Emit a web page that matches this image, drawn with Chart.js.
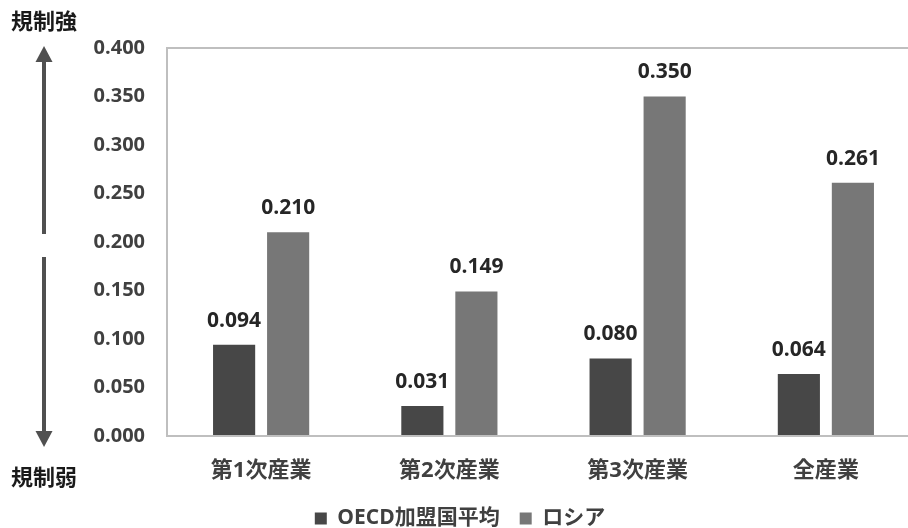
<!DOCTYPE html>
<html>
<head>
<meta charset="utf-8">
<script src="https://cdn.jsdelivr.net/npm/chart.js@4/dist/chart.umd.min.js"></script>
<style>
  html, body { margin: 0; padding: 0; overflow: hidden; background: #fff; }
  #wrap { width: 925px; height: 542px; }
</style>
</head>
<body>
<div id="wrap"><canvas id="regChart" width="925" height="542"></canvas></div>
<script>
const categories = ["第1次産業", "第2次産業", "第3次産業", "全産業"];
const oecdValues = [0.094, 0.031, 0.080, 0.064];
const russiaValues = [0.210, 0.149, 0.350, 0.261];
const seriesNames = ["OECD加盟国平均", "ロシア"];
const sideLabels = ["規制強", "規制弱"];

const FONT = "'Open Sans', 'Noto Sans CJK JP', sans-serif";

// plot frame, value labels, and the strong/weak arrow on the left
const decorations = {
  id: "decorations",
  afterDatasetsDraw(chart) {
    const ctx = chart.ctx;
    const area = chart.chartArea;
    ctx.save();

    // frame around plot
    ctx.strokeStyle = "#bfbfbf";
    ctx.lineWidth = 2;
    ctx.beginPath();
    ctx.moveTo(area.right + 5, area.top);
    ctx.lineTo(area.left, area.top);
    ctx.lineTo(area.left, area.bottom);
    ctx.lineTo(area.right + 5, area.bottom);
    ctx.stroke();

    // value labels
    ctx.fillStyle = "#262626";
    ctx.font = "bold 21px " + FONT;
    ctx.textAlign = "center";
    ctx.textBaseline = "middle";
    chart.data.datasets.forEach((ds, i) => {
      chart.getDatasetMeta(i).data.forEach((bar, j) => {
        ctx.fillText(ds.data[j].toFixed(3), bar.x, bar.y - 24);
      });
    });

    // arrow
    const yScale = chart.scales.y;
    const top = yScale.getPixelForValue(0.4) - 2;
    const bottom = yScale.getPixelForValue(0) + 11;
    const ax = 44;
    ctx.strokeStyle = "#505050";
    ctx.fillStyle = "#505050";
    ctx.lineWidth = 4;
    ctx.beginPath();
    ctx.moveTo(ax, top + 14);
    ctx.lineTo(ax, 234);
    ctx.moveTo(ax, 257);
    ctx.lineTo(ax, bottom - 14);
    ctx.stroke();
    ctx.beginPath();
    ctx.moveTo(ax, top);
    ctx.lineTo(ax - 8.5, top + 16);
    ctx.lineTo(ax + 8.5, top + 16);
    ctx.closePath();
    ctx.fill();
    ctx.beginPath();
    ctx.moveTo(ax, bottom);
    ctx.lineTo(ax - 8.5, bottom - 16);
    ctx.lineTo(ax + 8.5, bottom - 16);
    ctx.closePath();
    ctx.fill();

    // side labels
    ctx.fillStyle = "#1a1a1a";
    ctx.font = "bold 22px " + FONT;
    ctx.textAlign = "left";
    ctx.fillText(sideLabels[0], 11, 23);
    ctx.fillText(sideLabels[1], 11, 479);
    ctx.restore();
  },
};

new Chart(document.getElementById("regChart"), {
  type: "bar",
  data: {
    labels: categories,
    datasets: [
      {
        label: seriesNames[0],
        data: oecdValues,
        backgroundColor: "#474747",
        categoryPercentage: 0.574,
        barPercentage: 0.78,
      },
      {
        label: seriesNames[1],
        data: russiaValues,
        backgroundColor: "#777777",
        categoryPercentage: 0.574,
        barPercentage: 0.78,
      },
    ],
  },
  options: {
    responsive: false,
    animation: false,
    layout: {
      padding: { top: 48, right: 5, left: 0, bottom: 3 },
    },
    plugins: {
      legend: {
        position: "bottom",
        labels: {
          boxWidth: 12,
          boxHeight: 12,
          padding: 20,
          color: "#404040",
          font: { family: FONT, size: 21, weight: "bold" },
        },
      },
      tooltip: { enabled: false },
    },
    scales: {
      x: {
        grid: { display: false, drawTicks: false },
        border: { display: false },
        ticks: {
          color: "#404040",
          padding: 22,
          font: { family: FONT, size: 22, weight: "bold" },
        },
        afterFit(scale) {
          scale.height = 52;
        },
      },
      y: {
        min: 0,
        max: 0.4,
        grid: { display: false, drawTicks: false },
        border: { display: false },
        ticks: {
          stepSize: 0.05,
          color: "#404040",
          padding: 22,
          font: { family: FONT, size: 20, weight: "bold" },
          callback: (v) => v.toFixed(3),
        },
        afterFit(scale) {
          scale.width = 167;
        },
      },
    },
  },
  plugins: [decorations],
});
</script>
</body>
</html>
